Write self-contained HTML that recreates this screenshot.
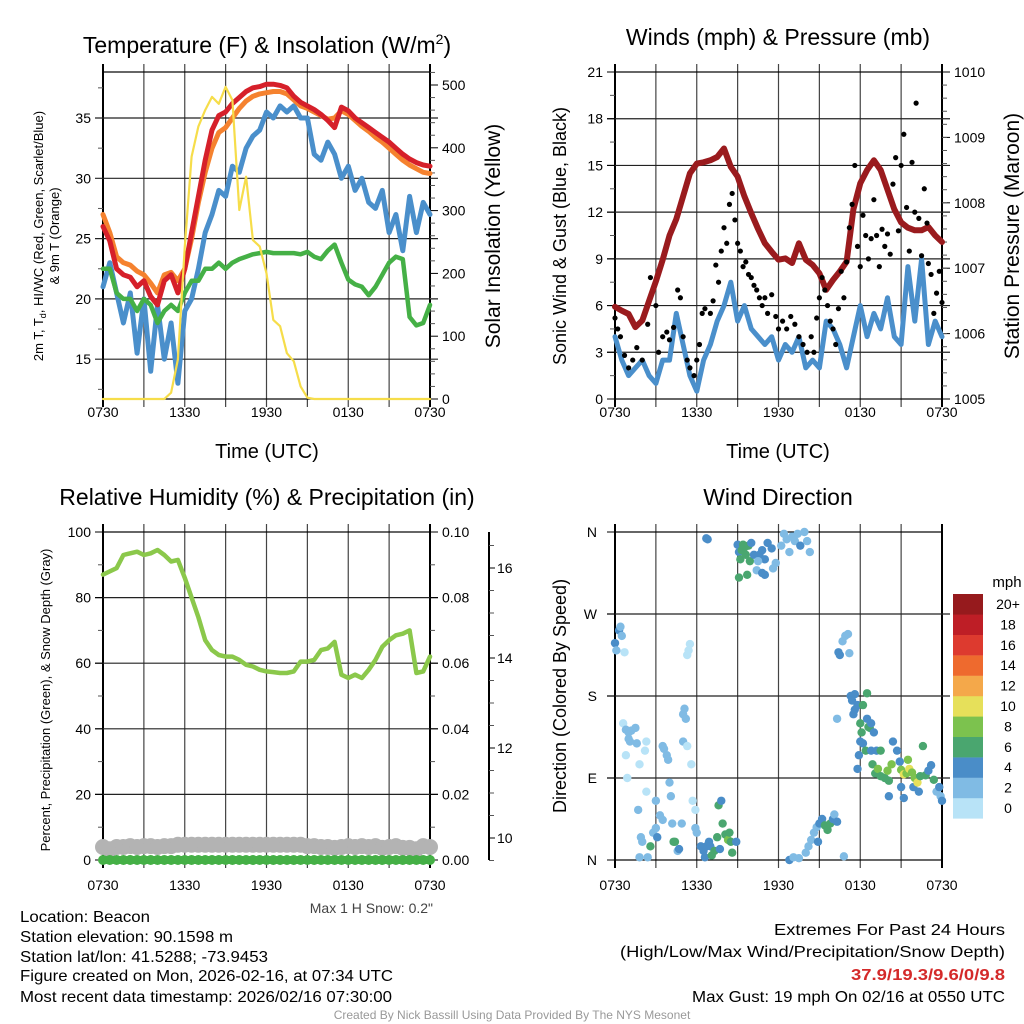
<!DOCTYPE html>
<html><head><meta charset="utf-8">
<style>
html,body{margin:0;padding:0;background:#fff;}
svg{display:block;font-family:"Liberation Sans",sans-serif;}
</style></head>
<body>
<svg id="fig" width="1024" height="1024" viewBox="0 0 1024 1024" xmlns="http://www.w3.org/2000/svg">
<rect width="1024" height="1024" fill="#fff"/>
<text x="267" y="53" font-size="23" text-anchor="middle">Temperature (F) &amp; Insolation (W/m<tspan font-size="14" dy="-9">2</tspan><tspan dy="9">)</tspan></text>
<text x="778" y="45" font-size="23" text-anchor="middle">Winds (mph) &amp; Pressure (mb)</text>
<text x="267" y="505" font-size="23" text-anchor="middle">Relative Humidity (%) &amp; Precipitation (in)</text>
<text x="778" y="505" font-size="23" text-anchor="middle">Wind Direction</text>

<text x="267" y="458" font-size="20" text-anchor="middle">Time (UTC)</text>
<text x="778" y="458" font-size="20" text-anchor="middle">Time (UTC)</text>

<text transform="translate(43,236) rotate(-90)" font-size="13" text-anchor="middle">2m T, T<tspan font-size="9" dy="3">d</tspan><tspan dy="-3">, HI/WC (Red, Green, Scarlet/Blue)</tspan></text>
<text transform="translate(59,236) rotate(-90)" font-size="13" text-anchor="middle">&amp; 9m T (Orange)</text>
<text transform="translate(500,236) rotate(-90)" font-size="21" text-anchor="middle">Solar Insolation (Yellow)</text>
<text transform="translate(566,236) rotate(-90)" font-size="18" text-anchor="middle">Sonic Wind &amp; Gust (Blue, Black)</text>
<text transform="translate(1019,236) rotate(-90)" font-size="21" text-anchor="middle">Station Pressure (Maroon)</text>
<text transform="translate(50,700) rotate(-90)" font-size="13" text-anchor="middle">Percent, Precipitation (Green), &amp; Snow Depth (Gray)</text>
<text transform="translate(566,696) rotate(-90)" font-size="18" text-anchor="middle">Direction (Colored By Speed)</text>

<text x="433" y="913" font-size="14" fill="#444" text-anchor="end">Max 1 H Snow: 0.2"</text>
<g font-size="16">
<text x="20" y="922" textLength="130" lengthAdjust="spacingAndGlyphs">Location: Beacon</text>
<text x="20" y="942" textLength="213" lengthAdjust="spacingAndGlyphs">Station elevation: 90.1598 m</text>
<text x="20" y="962" textLength="248" lengthAdjust="spacingAndGlyphs">Station lat/lon: 41.5288; -73.9453</text>
<text x="20" y="981" textLength="373" lengthAdjust="spacingAndGlyphs">Figure created on Mon, 2026-02-16, at 07:34 UTC</text>
<text x="20" y="1002" textLength="372" lengthAdjust="spacingAndGlyphs">Most recent data timestamp: 2026/02/16 07:30:00</text>
</g>
<g font-size="16">
<text x="774" y="935" textLength="231" lengthAdjust="spacingAndGlyphs">Extremes For Past 24 Hours</text>
<text x="620" y="957" textLength="385" lengthAdjust="spacingAndGlyphs">(High/Low/Max Wind/Precipitation/Snow Depth)</text>
<text x="851" y="980" fill="#d42a2a" font-weight="bold" textLength="154" lengthAdjust="spacingAndGlyphs">37.9/19.3/9.6/0/9.8</text>
<text x="692" y="1002" textLength="313" lengthAdjust="spacingAndGlyphs">Max Gust: 19 mph On 02/16 at 0550 UTC</text>
</g>
<text x="512" y="1019" font-size="12" fill="#999" text-anchor="middle">Created By Nick Bassill Using Data Provided By The NYS Mesonet</text>
</svg>
<script>
// ---- data (half-hour samples, t = hours after 0730 UTC) ----
const timeLabels = ["0730","1330","1930","0130","0730"];
const tempRed = [26.0,24.8,22.5,22.0,21.8,21.0,21.5,20.2,19.5,21.5,22.0,20.5,22.5,25.5,28.5,31.5,34.0,35.2,35.5,36.2,36.7,37.2,37.5,37.6,37.8,37.8,37.7,37.5,36.8,36.3,36.0,35.7,35.3,34.8,34.2,35.9,35.6,35.0,34.6,34.2,33.8,33.4,33.0,32.5,32.0,31.6,31.3,31.1,31.0];
const tempOrange = [27.0,25.5,23.5,23.0,22.8,22.3,22.0,21.3,20.5,22.0,22.2,21.5,22.5,25.0,28.0,30.5,32.5,33.8,34.2,35.0,35.8,36.4,36.8,37.0,37.1,37.2,37.2,37.0,36.5,36.0,35.8,35.5,35.2,34.9,35.0,35.6,35.3,34.8,34.3,33.9,33.4,33.0,32.5,32.0,31.5,31.1,30.8,30.5,30.4];
const tempBlue = [21,23,20.5,18,20.5,15.5,20,14,19.5,15,18,13,19,20,22.5,25.5,27,29,28.5,31,30.5,32.5,33.5,34,35.5,35,36,35.5,36,35,35,32,31.5,33,32,30,31,29,30,28,27.5,29,25.5,27,24,28.5,25.5,28,27];
const dewGreen = [22.5,22.5,20.5,20,20,19,20,19.5,18,19,19.5,19,20.5,21.5,21.5,22.5,22.5,23,22.5,23,23.3,23.5,23.7,23.8,23.9,23.8,23.8,23.8,23.8,23.7,23.9,23.5,23.3,24,24.5,23,21.6,21.2,21.0,20.3,21.0,22.0,23.0,23.5,23.3,18.5,17.8,18.0,19.5];
const solar = [0,0,0,0,0,0,0,0,0,0,10,63,243,386,434,460,481,470,497,476,301,354,253,243,200,126,116,73,60,20,2,0,0,0,0,0,0,0,0,0,0,0,0,0,0,0,0,0,0];
const pressure = [1006.41,1006.35,1006.3,1006.1,1006.2,1006.5,1006.8,1007.13,1007.5,1007.75,1008.1,1008.45,1008.6,1008.62,1008.65,1008.7,1008.83,1008.55,1008.4,1008.1,1007.84,1007.6,1007.38,1007.25,1007.13,1007.15,1007.08,1007.38,1007.13,1007.05,1006.92,1006.67,1006.82,1006.95,1007.1,1007.9,1008.3,1008.5,1008.65,1008.5,1008.2,1007.9,1007.7,1007.62,1007.58,1007.58,1007.63,1007.5,1007.4];
const windSpeed = [4,2.5,1.5,2,2.5,1.5,1,2.5,2.5,5.5,3.5,1.5,0.5,2.5,3.5,5,6,7.5,5,6,4.5,4,3.5,4,2.5,3.5,3,4,2,2.5,2,5,4.5,3.5,2,4,6,4,5.5,4.5,6.5,4,3.5,8.5,5,9,3.5,5,4];
const gustTimes = [0.0,0.2,0.4,0.7,1,1.3,1.6,2,2.4,2.6,3,3.2,3.5,3.8,4,4.3,4.6,4.8,5,5.3,5.5,5.8,6,6.2,6.4,6.6,7,7.2,7.4,7.6,7.8,8,8.2,8.4,8.6,8.8,9,9.2,9.4,9.6,9.8,10,10.2,10.4,10.6,10.8,11,11.2,11.5,11.8,12,12.3,12.6,12.9,13.2,13.5,13.8,14.1,14.4,14.6,14.8,15,15.2,15.4,15.6,15.8,16,16.2,16.4,16.6,16.8,17,17.2,17.4,17.6,17.8,18,18.2,18.4,18.6,18.8,19,19.2,19.4,19.6,19.8,20,20.2,20.4,20.6,20.8,21,21.2,21.4,21.6,21.8,22,22.1,22.3,22.5,22.7,22.9,23,23.2,23.4,23.6,23.8,24];
const gustValues = [5.2,4.5,4,2.8,2,2.5,3.3,2.5,4.8,7.8,6,3,4,4.3,3.8,4.6,7,6.5,4,2.5,2,1.5,2.5,3.5,5.5,5.8,5.5,6.3,8.6,7.5,9.5,11,10,12.5,13.2,11.5,10,9.5,8.5,8.8,8,7.8,7.3,7,6.5,6,6.5,5.5,6.7,5.3,4.5,5,4.5,5.3,4.8,4,3.5,3,4,3,5.2,6.5,7.8,7,6,5,4.5,3.5,5.8,8.2,6.5,8.8,11,12.5,15,9.8,8.5,11.8,10.5,9,10.3,12.8,10.5,8.5,10.9,9.8,10.6,9.3,13.8,15.5,10.8,15,17,12.3,9.5,15.2,12,19,11.6,9.2,13.5,11.3,8.7,8,5.5,6.8,8.2,6.2];
const rh = [87,88,89,93,93.5,94,93,93.5,94.5,93,91,91.5,86,80,74,67,64,62.5,62,62,61,59.5,59,58,57.5,57.3,57,57,57.5,60.5,60.5,61,64,64.5,66.5,56.5,55.5,56.5,55.5,58,61,65,67,68.5,69,70,57,57.5,62];
const precip = [0,0,0,0,0,0,0,0,0,0,0,0,0,0,0,0,0,0,0,0,0,0,0,0,0,0,0,0,0,0,0,0,0,0,0,0,0,0,0,0,0,0,0,0,0,0,0,0,0];
const snowDepth = [9.8,9.75,9.8,9.8,9.82,9.8,9.82,9.82,9.8,9.82,9.82,9.85,9.85,9.85,9.85,9.85,9.85,9.85,9.85,9.85,9.85,9.85,9.85,9.85,9.85,9.85,9.85,9.85,9.85,9.85,9.82,9.82,9.8,9.8,9.78,9.8,9.82,9.8,9.82,9.8,9.82,9.78,9.8,9.82,9.78,9.78,9.75,9.82,9.8];
const dirTimes = [0,0.1,0.3,0.4,0.5,0.7,0.6,0.8,1.0,1.2,1.5,1.1,0.8,1.0,1.6,2.2,2.3,1.8,0.9,2.3,1.7,1.9,2.0,1.8,2.4,2.6,2.8,3.0,3.1,3.0,3.3,3.5,3.5,3.6,3.8,3.9,4.0,4.1,4.2,4.3,4.4,4.6,4.7,4.9,5.0,5.1,5.2,5.0,5.3,5.6,5.3,5.4,5.5,5.7,5.9,5.9,6.0,6.3,6.5,6.7,6.9,7.0,6.6,7.3,7.5,7.6,7.8,7.9,8.1,8.3,8.4,8.5,8.6,8.9,7.1,7.7,6.7,6.8,9.0,9.1,9.2,9.1,9.3,9.4,9.5,9.6,9.8,9.9,10.0,10.2,10.4,10.6,10.8,11.0,11.2,11.5,11.6,11.8,12.2,12.4,12.6,12.8,13.0,13.2,13.4,13.6,13.9,14.1,14.3,9.7,10.5,11.0,10.8,12.8,13.1,13.5,14.0,14.2,14.4,14.6,14.8,15.0,15.2,15.4,15.6,15.8,16.0,16.1,16.3,14.9,16.8,16.4,16.5,16.7,16.9,17.1,17.2,16.3,17.3,17.4,17.6,17.6,17.8,17.5,18.0,18.1,18.2,18.5,18.2,18.0,17.9,17.8,18.5,18.7,18.6,18.8,19.0,18.4,18.8,19.2,19.5,18.9,19.1,19.3,19.5,19.8,20.0,20.3,20.1,20.4,20.7,20.9,21.0,21.2,21.4,21.5,21.6,21.8,22.0,21.9,22.2,22.4,22.6,22.8,23.0,23.2,23.4,23.6,23.8,23.9,24.0,22.3,21.0,21.2,20.1];
const dirDegrees = [238,230,252,256,246,228,150,143,140,142,145,130,115,133,128,120,130,105,90,75,55,25,20,3,3,15,30,35,25,65,49,44,125,122,115,110,85,70,40,20,20,10,12,40,160,166,155,130,125,105,225,230,237,65,55,35,30,15,10,15,20,15,3,10,25,60,65,40,28,22,30,20,8,20,5,12,353,352,346,338,330,310,340,346,343,335,345,328,348,335,318,335,340,330,348,342,320,326,345,358,352,338,355,350,358,345,360,350,338,313,328,313,315,0,3,2,8,15,22,30,36,40,45,38,33,40,45,50,42,20,4,228,225,240,246,248,227,155,180,175,182,165,170,160,150,140,170,183,128,130,115,100,155,145,146,150,140,120,120,120,120,105,95,100,92,90,98,105,87,130,120,108,99,94,95,110,100,96,90,80,85,92,125,93,98,104,88,75,80,70,65,75,80,68,70];
const dirSpeeds = [4,3,4,3,2,1,0,2,2,2,2,2,0,2,2,0,0,0,0,0,2,2,2,3,3,6,3,3,4,3,2,2,2,2,2,2,2,2,2,6,6,3,4,3,2,2,2,2,0,0,0,0,0,0,0,2,2,4,4,4,4,4,4,6,6,6,4,6,6,8,6,6,6,4,6,4,4,4,4,4,6,6,6,6,6,6,6,6,4,4,2,4,4,4,4,4,2,2,2,2,2,2,2,2,2,4,2,2,2,6,2,4,4,4,2,2,2,2,2,2,2,4,4,6,6,6,4,2,4,4,2,4,4,2,2,2,2,2,4,4,4,4,4,4,6,6,6,6,4,4,4,4,4,6,6,4,4,6,4,4,6,6,6,8,6,6,8,8,6,4,4,4,8,10,8,8,10,8,8,4,10,6,6,6,4,4,6,2,4,2,4,4,4,4,4];
const speedLabels = ["0","2","4","6","8","10","12","14","16","18","20+"];
const speedColors = ["#b8e3f7","#80bbe4","#4a8dc8","#4aa66f","#7cc24e","#e6e05a","#f4a84a","#ee6a2e","#dd3a2f","#be1e26","#961a1d"];

const NS = "http://www.w3.org/2000/svg";
const svg = document.getElementById("fig");
function mk(tag, attrs, parent){
  const e = document.createElementNS(NS, tag);
  for (const k in attrs) e.setAttribute(k, attrs[k]);
  (parent || svg).appendChild(e);
  return e;
}
const W = 327;
const tx1 = t => 103 + t * W / 24;
const tx2 = t => 615 + t * W / 24;
const step = i => i * 0.5;

function drawGroup(name){
  const g = mk("g", {});
  
  
  return g;
}
function frame(x0, y0, y1, name, labOff){
  const g = drawGroup(name);
  for (let h = 3; h < 24; h += 3) {
    const ln = mk("line", {x1: x0 + h * W / 24, x2: x0 + h * W / 24, y1: y0 - 8, y2: y1 + 8, stroke: "#444", "stroke-width": 1.2}, g);
    
    
  }
  const r = mk("rect", {x: x0, y: y0, width: W, height: y1 - y0, fill: "none", stroke: "#000", "stroke-width": 1.2}, g);
  
  
  const la = mk("line", {x1: x0, x2: x0, y1: y0 - 8, y2: y1 + 8, stroke: "#000", "stroke-width": 2}, g);
  
  
  const ra = mk("line", {x1: x0 + W, x2: x0 + W, y1: y0 - 8, y2: y1 + 8, stroke: "#000", "stroke-width": 2}, g);
  
  
  timeLabels.forEach((lab, i) => {
    const t = mk("text", {x: x0 + i * 6 * W / 24, y: y1 + labOff, "font-size": 14, "text-anchor": "middle"}, g);
    t.textContent = lab;
    
    
  });
  return g;
}
function hgrid(g, x0, y){
  const ln = mk("line", {x1: x0 - 8, x2: x0 + W + 8, y1: y, y2: y, stroke: "#222", "stroke-width": 1.2}, g);
  
  
}
function tickLabel(g, x, y, txt, anchor){
  const t = mk("text", {x: x, y: y + 5, "font-size": 14, "text-anchor": anchor}, g);
  t.textContent = txt;
  
  
}
function minor(g, x, y, dir){
  const ln = mk("line", {x1: x, x2: x + dir * 5, y1: y, y2: y, stroke: "#555", "stroke-width": 1}, g);
  
  
}
function polyline(values, xf, yf, color, width, name, parent){
  const pts = values.map((v, i) => xf(step(i)).toFixed(1) + "," + yf(v).toFixed(1)).join(" ");
  const p = mk("polyline", {points: pts, fill: "none", stroke: color, "stroke-width": width, "stroke-linejoin": "round", "stroke-linecap": "round"}, parent);
  
  
  return p;
}

// clip for panel1
const defs = mk("defs", {});
const cp = mk("clipPath", {id: "clip1"}, defs);
mk("rect", {x: 100, y: 72, width: 333, height: 330}, cp);

// ---------- Panel 1: temperature ----------
const yT = v => 118 + (35 - v) * 12.06;
const yS = v => 399 - v * 0.628;
const g1 = frame(103, 72, 399, "temperature-panel", 18);
[35, 30, 25, 20, 15].forEach(v => { hgrid(g1, 103, yT(v)); tickLabel(g1, 91, yT(v), String(v), "end"); });
[37.5, 32.5, 27.5, 22.5, 17.5, 12.5].forEach(v => minor(g1, 103, yT(v), -1));
for (let v = 0; v <= 500; v += 100) { tickLabel(g1, 442, yS(v), String(v), "start"); mk("line", {x1: 430, x2: 438, y1: yS(v), y2: yS(v), stroke: "#000"}, g1); }
for (let v = 20; v <= 520; v += 20) if (v % 100) minor(g1, 430, yS(v), 1);
const c1 = mk("g", {"clip-path": "url(#clip1)"});
polyline(tempBlue, tx1, yT, "#4a8fcb", 5, "hiwc-blue-line", c1);
polyline(dewGreen, tx1, yT, "#45b046", 4.5, "dewpoint-green-line", c1);
polyline(tempOrange, tx1, yT, "#f5822f", 5, "temp-9m-orange-line", c1);
polyline(tempRed, tx1, yT, "#d6202a", 5, "temp-2m-red-line", c1);
polyline(solar, tx1, yS, "#f6dd4a", 2.2, "solar-yellow-line", c1);

// ---------- Panel 2: wind & pressure ----------
const yW = v => 399 - v * 327 / 21;
const yP = v => 399 - (v - 1005) * 65.4;
const g2 = frame(615, 72, 399, "wind-panel", 18);
for (let v = 0; v <= 21; v += 3) { if (v > 0 && v < 21) hgrid(g2, 615, yW(v)); tickLabel(g2, 603, yW(v), String(v), "end"); mk("line", {x1: 607, x2: 615, y1: yW(v), y2: yW(v), stroke: "#000"}, g2); }
for (let v = 1.5; v < 21; v += 3) minor(g2, 615, yW(v), -1);
for (let v = 1005; v <= 1010; v++) { tickLabel(g2, 954, yP(v), String(v), "start"); mk("line", {x1: 942, x2: 950, y1: yP(v), y2: yP(v), stroke: "#000"}, g2); }
for (let v = 1005.2; v < 1010; v += 0.2) minor(g2, 942, yP(v), 1);
polyline(windSpeed, tx2, yW, "#4a8fcb", 5, "sonic-wind-line", g2);
polyline(pressure, tx2, yP, "#9a1b1e", 6, "pressure-line", g2);
gustTimes.forEach((t, i) => {
  const c = mk("circle", {cx: tx2(t), cy: yW(gustValues[i]), r: 2.6, fill: "#000"}, g2);
  
  
});

// ---------- Panel 3: RH ----------
const yR = v => 860 - v * 3.28;
const ySn = v => 838 - (v - 10) * 45;
const g3 = frame(103, 532, 860, "humidity-panel", 30);
for (let v = 0; v <= 100; v += 20) { if (v > 0 && v < 100) hgrid(g3, 103, yR(v)); tickLabel(g3, 91, yR(v), String(v), "end"); mk("line", {x1: 95, x2: 103, y1: yR(v), y2: yR(v), stroke: "#000"}, g3); }
for (let v = 10; v < 100; v += 20) minor(g3, 103, yR(v), -1);
for (let v = 0; v <= 0.1001; v += 0.02) { tickLabel(g3, 442, yR(v * 1000), v.toFixed(2), "start"); mk("line", {x1: 430, x2: 438, y1: yR(v * 1000), y2: yR(v * 1000), stroke: "#000"}, g3); }
for (let v = 0.01; v < 0.1; v += 0.02) minor(g3, 430, yR(v * 1000), 1);
const snowAxis = mk("line", {x1: 489, x2: 489, y1: 532, y2: 860, stroke: "#000", "stroke-width": 2}, g3);


[10, 12, 14, 16].forEach(v => { tickLabel(g3, 497, ySn(v), String(v), "start"); mk("line", {x1: 489, x2: 495, y1: ySn(v), y2: ySn(v), stroke: "#000"}, g3); });
for (let v = 9.5; v < 17; v += 0.5) if (v % 2) minor(g3, 489, ySn(v), 1);
snowDepth.forEach((v, i) => {
  const c = mk("circle", {cx: tx1(step(i)), cy: ySn(v), r: 8, fill: "#b3b3b3"}, g3);
  
  
});
polyline(precip.map(v => v * 1000), tx1, yR, "#45b046", 8, "precip-line", g3);
precip.forEach((v, i) => {
  const c = mk("circle", {cx: tx1(step(i)), cy: yR(v * 1000), r: 5, fill: "#45b046"}, g3);
  
  
});
polyline(rh, tx1, yR, "#8bc84b", 4.5, "rh-line", g3);

// ---------- Panel 4: wind direction ----------
const yD = d => 860 - d * 328 / 360;
const g4 = frame(615, 532, 860, "wind-direction-panel", 30);
[["N",0],["E",90],["S",180],["W",270],["N",360]].forEach(([lab, d]) => {
  if (d > 0 && d < 360) hgrid(g4, 615, yD(d));
  tickLabel(g4, 597, yD(d), lab, "end");
  mk("line", {x1: 607, x2: 615, y1: yD(d), y2: yD(d), stroke: "#000"}, g4);
});
dirTimes.forEach((t, i) => {
  const c = mk("circle", {cx: tx2(t), cy: yD(dirDegrees[i]), r: 4.2, fill: speedColors[Math.min(10, Math.floor(dirSpeeds[i] / 2))]}, g4);
  
  
});
const lg = drawGroup("speed-legend");
const mphT = mk("text", {x: 1007, y: 587, "font-size": 15, "text-anchor": "middle"}, lg);
mphT.textContent = "mph";


speedLabels.forEach((lab, i) => {
  const y = 594 + (10 - i) * 20.4;
  const r = mk("rect", {x: 953, y: y, width: 30, height: 20.6, fill: speedColors[i]}, lg);
  
  
  const t = mk("text", {x: 1008, y: y + 15, "font-size": 14, "text-anchor": "middle"}, lg);
  t.textContent = lab;
  
  
});
</script>
</body></html>
